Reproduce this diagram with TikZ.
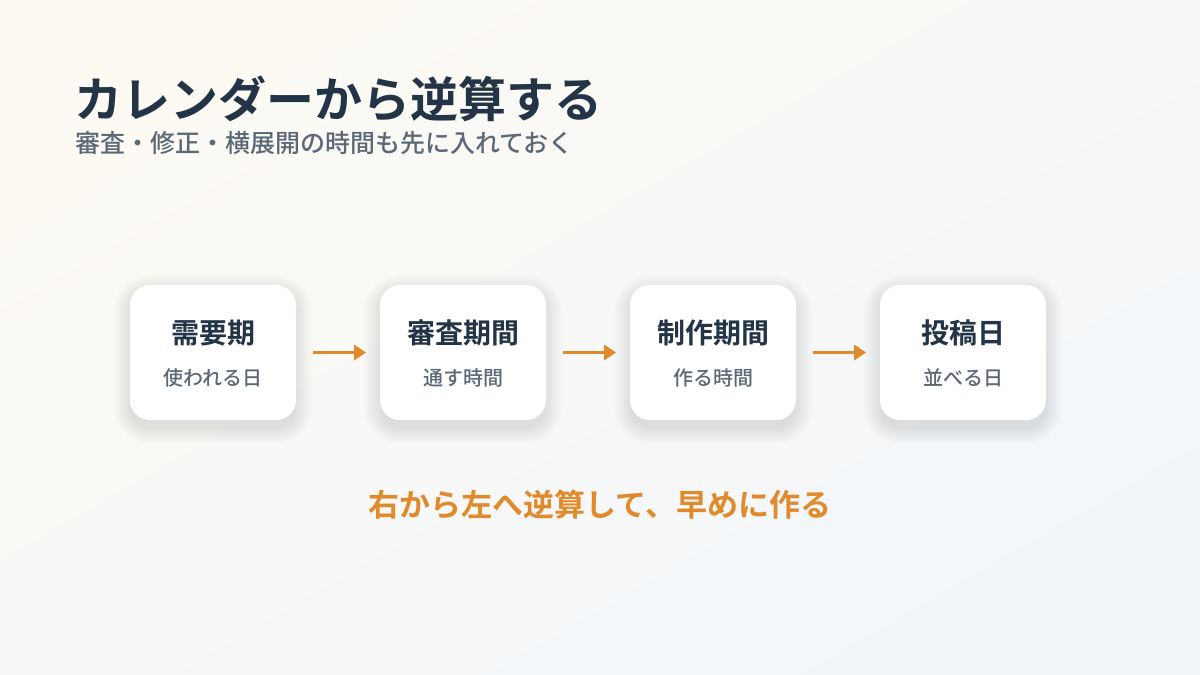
\documentclass[tikz,border=0pt]{standalone}
\usepackage{fontspec}
\setmainfont{Noto Sans CJK JP}[BoldFont={* Bold}]
\newfontfamily\jpmed{Noto Sans CJK JP Medium}
\usetikzlibrary{arrows.meta}
\definecolor{navy}{HTML}{243447}
\definecolor{slate}{HTML}{5B6878}
\definecolor{accent}{HTML}{E08A2B}
\definecolor{bgA}{HTML}{FDFAF3}
\definecolor{bgB}{HTML}{F2F6FB}
\tikzset{
  card/.style={draw=none, fill=white, rounded corners=20pt, minimum width=166pt, minimum height=135pt},
  cardtitle/.style={font=\fontsize{28}{32}\selectfont\bfseries, text=navy},
  cardsub/.style={font=\fontsize{20}{24}\selectfont\jpmed, text=slate},
  flow/.style={draw=accent, line width=3.5pt, -{Triangle[length=12pt,width=15pt]}},
}
\begin{document}
\begin{tikzpicture}[x=1pt,y=-1pt]
\useasboundingbox (0,0) rectangle (1200,675);
\shade[left color=bgA, right color=bgB, shading angle=30] (0,0) rectangle (1200,675);
\node[anchor=base west, inner sep=0, font=\fontsize{48}{56}\selectfont\bfseries, text=navy] (title) at (74,117) {カレンダーから逆算する};
\node[anchor=base west, inner sep=0, font=\fontsize{25}{29}\selectfont\jpmed, text=slate] (sub) at (75,152) {審査・修正・横展開の時間も先に入れておく};
\foreach \i/\x/\t/\s in {1/213/需要期/使われる日, 2/463/審査期間/通す時間, 3/713/制作期間/作る時間, 4/963/投稿日/並べる日}{
  \foreach \k in {0,2,...,16}{
    \fill[black, opacity=0.012, rounded corners={20pt+\k pt}]
      (\x-83-\k, 352.5-67.5+6-\k) rectangle (\x+83+\k, 352.5+67.5+8+\k);
  }
  \node[card] (c\i) at (\x,352.5) {};
  \node[cardtitle, anchor=center] (t\i) at (\x,333) {\t};
  \node[cardsub, anchor=center] (s\i) at (\x,378) {\s};
}
\draw[flow] (c1.east) ++(17,0) coordinate (a1) -- ++(53,0) coordinate (b1);
\draw[flow] (c2.east) ++(17,0) coordinate (a2) -- ++(53,0) coordinate (b2);
\draw[flow] (c3.east) ++(17,0) coordinate (a3) -- ++(53,0) coordinate (b3);
\node[anchor=center, font=\fontsize{31}{35}\selectfont\bfseries, text=accent] (note) at (600,505) {右から左へ逆算して、早めに作る};
\end{tikzpicture}
\end{document}
